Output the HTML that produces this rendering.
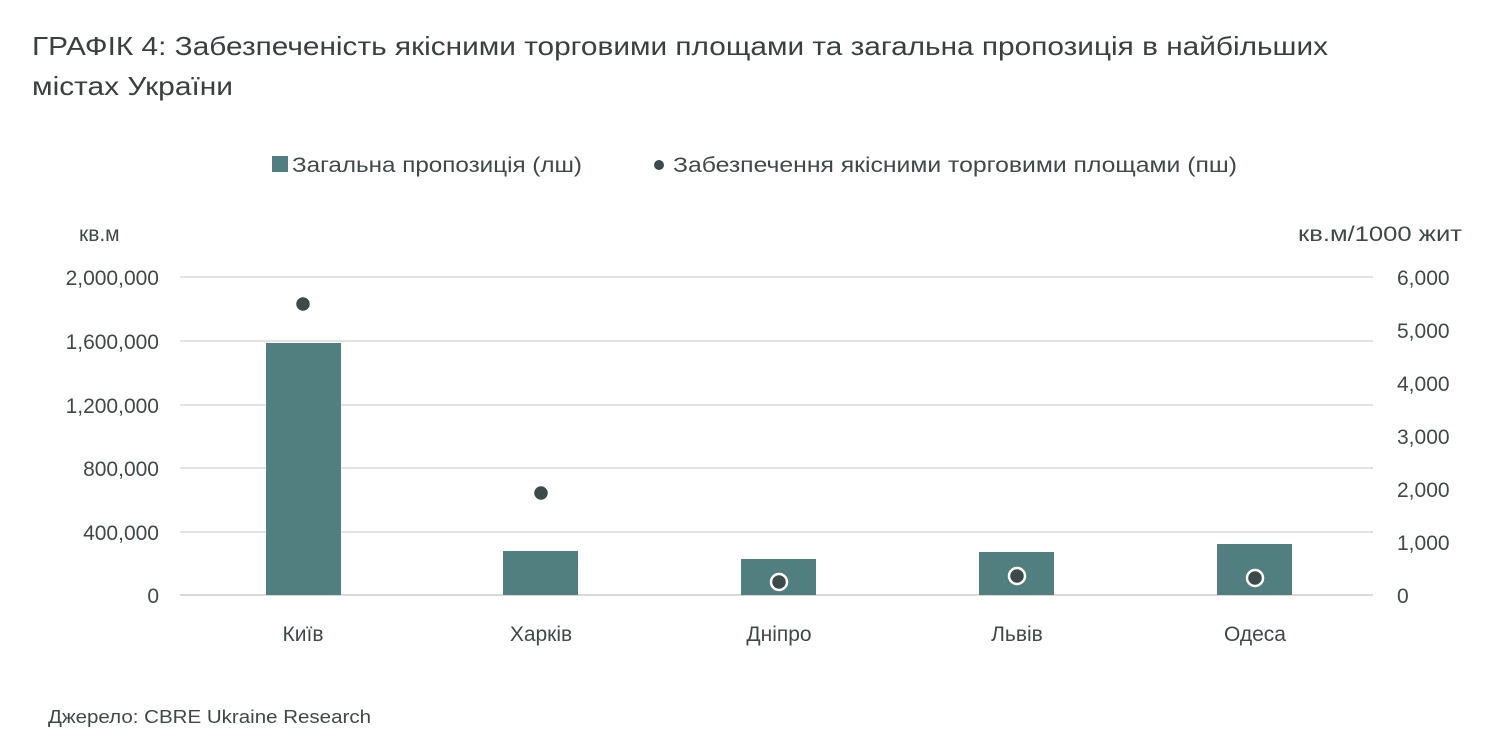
<!DOCTYPE html>
<html><head><meta charset="utf-8"><style>
body{margin:0;background:#fff;}
svg{display:block;font-family:"Liberation Sans","DejaVu Sans",sans-serif;}
</style></head><body>
<svg width="1499" height="744" viewBox="0 0 1499 744" xmlns="http://www.w3.org/2000/svg">
<g fill="#3a3f40" font-size="26">
<text x="32" y="55" textLength="1296" lengthAdjust="spacingAndGlyphs">ГРАФІК 4: Забезпеченість якісними торговими площами та загальна пропозиція в найбільших</text>
<text x="32" y="95" textLength="201" lengthAdjust="spacingAndGlyphs">містах України</text>
</g>
<g fill="#404848" font-size="21">
<rect x="272" y="156" width="16" height="16" fill="#517e7e"/>
<text x="292" y="172" textLength="290" lengthAdjust="spacingAndGlyphs">Загальна пропозиція (лш)</text>
<circle cx="659" cy="165" r="5" fill="#3d4a4a"/>
<text x="673" y="172" textLength="564" lengthAdjust="spacingAndGlyphs">Забезпечення якісними торговими площами (пш)</text>
<text x="79" y="241">кв.м</text>
<text x="1462" y="241" text-anchor="end" textLength="164" lengthAdjust="spacingAndGlyphs">кв.м/1000 жит</text>
</g>
<g stroke="#d9d9d9" stroke-width="1.5">
<line x1="180" x2="1373" y1="277" y2="277"/>
<line x1="180" x2="1373" y1="341" y2="341"/>
<line x1="180" x2="1373" y1="405" y2="405"/>
<line x1="180" x2="1373" y1="468" y2="468"/>
<line x1="180" x2="1373" y1="532" y2="532"/>
<line x1="180" x2="1373" y1="595" y2="595" stroke-width="2"/>
</g>
<g fill="#404848" font-size="21" text-anchor="end">
<text x="159" y="285">2,000,000</text>
<text x="159" y="349">1,600,000</text>
<text x="159" y="413">1,200,000</text>
<text x="159" y="476">800,000</text>
<text x="159" y="540">400,000</text>
<text x="159" y="603">0</text>
</g>
<g fill="#404848" font-size="21">
<text x="1397" y="285">6,000</text>
<text x="1397" y="338">5,000</text>
<text x="1397" y="391">4,000</text>
<text x="1397" y="444">3,000</text>
<text x="1397" y="497">2,000</text>
<text x="1397" y="550">1,000</text>
<text x="1397" y="603">0</text>
</g>
<g fill="#517e7e">
<rect x="266" y="343" width="75" height="252"/>
<rect x="503" y="551" width="75" height="44"/>
<rect x="741" y="559" width="75" height="36"/>
<rect x="979" y="552" width="75" height="43"/>
<rect x="1217" y="544" width="75" height="51"/>
</g>
<g fill="#3d4a4a" stroke="#fff" stroke-width="2.5">
<circle cx="303" cy="304" r="8"/>
<circle cx="541" cy="493" r="8"/>
<circle cx="779" cy="582" r="8"/>
<circle cx="1017" cy="576" r="8"/>
<circle cx="1255" cy="578" r="8"/>
</g>
<g fill="#404848" font-size="21" text-anchor="middle">
<text x="303" y="641">Київ</text>
<text x="541" y="641">Харків</text>
<text x="779" y="641">Дніпро</text>
<text x="1017" y="641">Львів</text>
<text x="1255" y="641">Одеса</text>
</g>
<text x="48" y="723" fill="#404848" font-size="18" textLength="323" lengthAdjust="spacingAndGlyphs">Джерело: CBRE Ukraine Research</text>
</svg>
</body></html>
